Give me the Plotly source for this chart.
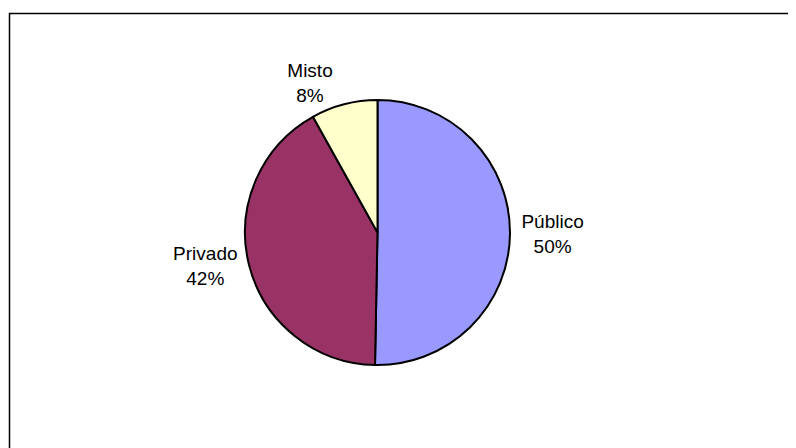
import plotly.graph_objects as go

categories = ["Público", "Privado", "Misto"]
values = [50.3, 41.6, 8.1]
colors = ["#9999FF", "#993366", "#FFFFCC"]

# page body has an 8px default margin; size the figure to the visible area
W, H = 788, 440
OFF = 8

fig = go.Figure(go.Pie(
    labels=categories,
    values=values,
    sort=False,
    direction="clockwise",
    rotation=0,
    marker=dict(colors=colors, line=dict(color="black", width=2)),
    texttemplate="%{label}<br>%{percent:.0%}",
    textposition="outside",
    textfont=dict(family="Liberation Sans, Arial, sans-serif", size=19, color="black"),
    showlegend=False,
    domain=dict(x=[(245 - OFF) / W, (510 - OFF) / W],
                y=[(H - (365 - OFF)) / H, (H - (100 - OFF)) / H]),
    hoverinfo="label+percent",
))

fig.add_shape(type="rect", xref="paper", yref="paper",
              x0=(9.5 - OFF) / W, x1=1.05, y0=-0.05, y1=(H - (13.5 - OFF)) / H,
              line=dict(color="black", width=1.5))

fig.update_layout(
    width=W, height=H,
    margin=dict(l=0, r=0, t=0, b=0),
    paper_bgcolor="white", plot_bgcolor="white",
    font=dict(family="Liberation Sans, Arial, sans-serif", color="black"),
)

fig.write_html("out.html")
